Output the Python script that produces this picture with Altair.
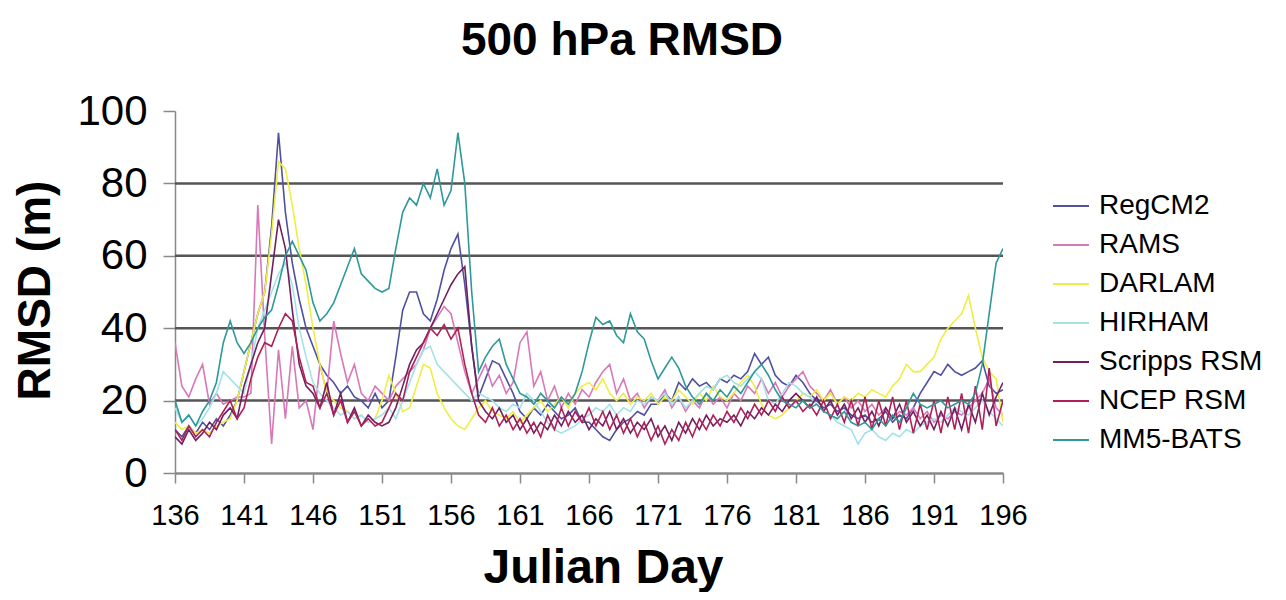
import altair as alt
import pandas as pd

MODELS = ["RegCM2", "RAMS", "DARLAM", "HIRHAM", "Scripps RSM", "NCEP RSM", "MM5-BATS"]
COLORS = ["#5050a0", "#d878b8", "#eeee44", "#a4e2ea", "#702060", "#b02058", "#2f9898"]

DAY_START = 136
DAY_STEP = 0.5
X_TICKS = [136, 141, 146, 151, 156, 161, 166, 171, 176, 181, 186, 191, 196]
Y_TICKS = [0, 20, 40, 60, 80, 100]
GRID = [20, 40, 60, 80]

REGCM2 = [
    12, 10, 13, 11, 14, 12, 15, 13, 16, 20,
    28, 36, 44, 50, 68, 94, 72, 58, 48, 40,
    35, 30, 27, 25, 22, 24, 21, 20, 18, 22,
    18, 20, 32, 45, 50, 50, 44, 42, 48, 56,
    62, 66, 52, 35, 21, 26, 31, 30, 26, 22,
    17, 15, 18, 16, 19, 17, 15, 16, 18, 14,
    14, 12, 10, 9, 12, 14, 15, 17, 16, 19,
    19, 22, 20, 25, 23, 26, 24, 25, 23, 26,
    25, 27, 26, 28, 33, 30, 32, 27, 25, 24,
    27, 25, 22, 20, 18, 19, 17, 18, 16, 15,
    16, 14, 15, 17, 14, 16, 15, 18, 22, 25,
    28, 27, 30, 28, 27, 28, 29, 31, 24, 22,
    23]

RAMS = [
    36, 24, 21, 26, 30, 19, 22, 19, 20, 21,
    21, 22, 74, 38, 8, 34, 15, 35, 18, 20,
    12, 30, 22, 42, 33, 25, 30, 22, 20, 24,
    22, 20, 24, 26, 28, 30, 34, 40, 43, 46,
    44, 36, 28, 22, 26, 30, 24, 27, 22, 25,
    36, 39, 24, 28, 20, 24, 18, 22, 19, 23,
    21, 25, 28, 30, 22, 26, 20, 22, 18, 21,
    20, 23, 18, 21, 17, 20, 18, 22, 19, 21,
    18, 22, 20, 24, 22, 26, 22, 25, 21, 24,
    26, 28, 24, 22, 20, 23, 19, 21, 18, 20,
    17, 19, 16, 18, 15, 17, 16, 18, 15, 17,
    14, 16, 15, 17, 16, 18, 20, 22, 26, 18,
    16]

DARLAM = [
    14, 12, 13, 11, 12, 11, 13, 14, 15, 20,
    28, 36, 44, 50, 66, 86, 84, 74, 62, 52,
    40, 30, 22, 20, 18, 17, 15, 16, 14, 15,
    20, 27, 22, 17, 18, 24, 30, 29, 22, 18,
    15, 13, 12, 15, 18, 20, 17, 16, 15, 17,
    14, 16, 18, 20, 17, 19, 21, 18, 22, 24,
    25, 23, 26, 22, 20, 22, 19, 21, 20, 22,
    19, 21, 20, 23, 21, 19, 22, 20, 24, 21,
    20, 22, 25, 27, 24, 19, 16, 15, 16, 18,
    20, 22, 21, 23, 20, 22, 19, 21, 20, 22,
    21, 23, 22, 21, 24, 26, 30, 28, 28, 30,
    32, 37, 40, 42, 44, 49, 40, 32, 28, 26,
    14]

HIRHAM = [
    18, 14, 16, 13, 15, 18, 22, 28, 26, 24,
    22, 30, 40, 45, 50, 55, 58, 52, 40, 32,
    25, 22, 20, 18, 16, 17, 15, 16, 14, 15,
    16, 18, 15, 20, 25, 30, 34, 35, 30, 28,
    26, 24, 22, 20, 22, 21, 20, 18, 17, 19,
    18, 22, 20, 17, 14, 12, 11, 12, 13, 15,
    16, 18, 17, 19, 16, 18, 17, 20, 19, 21,
    20, 22, 19, 21, 18, 20, 22, 24, 23, 26,
    27, 25, 24, 26, 28, 26, 20, 19, 22, 25,
    24, 22, 21, 19, 17, 16, 14, 13, 12, 8,
    11, 12, 10, 9, 11, 10, 12, 11, 13, 14,
    15, 14, 16, 18, 17, 16, 18, 20, 17, 15,
    13]

SCRIPPS = [
    10, 8, 12, 9, 11, 14, 12, 16, 18, 15,
    24, 30, 36, 40, 55, 70, 62, 45, 30, 24,
    22, 18, 25, 16, 22, 14, 18, 13, 16, 14,
    13, 14, 18, 24, 30, 34, 36, 40, 44, 48,
    52, 55, 57, 35, 20, 17, 15, 18, 14, 16,
    12, 15, 11, 14, 12, 16, 13, 17, 14, 16,
    12, 15, 13, 17, 12, 15, 11, 14, 12, 15,
    10, 13, 9, 14, 11, 15, 12, 16, 13, 15,
    14, 16, 13, 17, 15, 18, 16, 19, 17, 20,
    22, 20, 18, 21, 17, 20, 16, 19, 15, 18,
    14, 17, 13, 18, 15, 19, 14, 17, 13, 16,
    12, 17, 13, 18, 12, 19, 14, 22, 16, 21,
    25]

NCEP = [
    12, 9, 13, 10, 12, 10, 14, 17, 20, 15,
    18, 26, 32, 36, 35, 40, 44, 42, 32, 25,
    24, 18, 22, 16, 20, 14, 17, 13, 15, 13,
    14, 18, 22, 20, 28, 32, 36, 40, 38, 41,
    37, 40, 30, 22, 16, 14, 18, 13, 16, 12,
    15, 11, 14, 10, 16, 12, 18, 13, 17, 14,
    18, 13, 17, 12, 16, 11, 15, 10, 14, 9,
    13, 8, 12, 9, 14, 10, 15, 12, 16, 13,
    17, 14, 18, 15, 19, 16, 20, 17, 21, 18,
    20, 17, 19, 16, 20, 15, 19, 14, 20, 13,
    21, 12, 20, 13, 21, 12, 20, 11, 19, 12,
    20, 11, 21, 12, 22, 11, 24, 12, 29, 13,
    20]

MM5 = [
    20, 14, 16, 13, 17, 20, 25, 36, 42, 36,
    33, 36, 40, 43, 45, 52, 60, 64, 60, 56,
    47, 42, 44, 47, 52, 57, 62, 55, 53, 51,
    50, 51, 62, 72, 76, 74, 80, 76, 84, 74,
    78, 94, 80, 50, 28, 32, 35, 37, 30, 26,
    22, 21, 19, 22, 20, 18, 21, 19, 22, 28,
    36, 43, 41, 42, 38, 36, 44, 39, 37, 31,
    26, 29, 32, 29, 24, 21, 19, 22, 20, 23,
    21, 24, 22, 25, 28, 30, 27, 23, 20, 19,
    18, 20, 18, 19, 17, 16, 15, 17, 14, 13,
    14, 12, 15, 13, 16, 14, 18, 22, 19, 18,
    19, 20, 18, 19, 20, 19, 22, 30, 44, 58,
    62]

SERIES = [REGCM2, RAMS, DARLAM, HIRHAM, SCRIPPS, NCEP, MM5]

rows = []
for name, vals in zip(MODELS, SERIES):
    for i, v in enumerate(vals):
        rows.append({"day": DAY_START + DAY_STEP * i, "rmsd": v, "model": name})
df = pd.DataFrame(rows)
grid_df = pd.DataFrame({"rmsd": GRID})

FONT = "Liberation Sans"

y_enc = alt.Y(
    "rmsd:Q",
    scale=alt.Scale(domain=[0, 100], nice=False),
    axis=alt.Axis(
        values=Y_TICKS, grid=False, title="RMSD (m)",
        labelFontSize=42, labelFont=FONT, labelColor="#000",
        labelPadding=16, tickSize=12, tickColor="#888", tickWidth=1.5,
        domainColor="#888", domainWidth=1.5, labelOverlap=False, labelFlush=False,
        titleFontSize=46, titleFont=FONT, titleFontWeight="bold", titleColor="#000",
        titleX=-126, titleY=179, titleAngle=270, titleBaseline="alphabetic",
        titleAlign="center",
    ),
)

x_enc = alt.X(
    "day:Q",
    scale=alt.Scale(domain=[136, 196], nice=False, zero=False),
    axis=alt.Axis(
        values=X_TICKS, format="d", grid=False, title="Julian Day",
        labelFontSize=29, labelFont=FONT, labelColor="#000",
        labelOverlap=False, labelFlush=False,
        labelPadding=18, tickSize=10, tickColor="#888", tickWidth=1.5,
        domainColor="#888", domainWidth=2.5,
        titleFontSize=48, titleFont=FONT, titleFontWeight="bold", titleColor="#000",
        titleX=428, titleY=109, titleBaseline="alphabetic", titleAlign="center",
    ),
)

grid = alt.Chart(grid_df).mark_rule(color="#555555", strokeWidth=2.5).encode(y=y_enc)

lines = alt.Chart(df).mark_line(strokeWidth=1.6, clip=True).encode(
    x=x_enc,
    y=y_enc,
    color=alt.Color(
        "model:N",
        scale=alt.Scale(domain=MODELS, range=COLORS),
        legend=alt.Legend(
            title=None, orient="none", legendX=877, legendY=76,
            symbolType="stroke", symbolSize=1296, symbolStrokeWidth=2,
            labelFontSize=28, labelFont=FONT, labelColor="#000", labelLimit=400,
            labelOffset=9, rowPadding=6, padding=0,
        ),
    ),
)

chart = alt.layer(grid, lines).properties(
    width=828,
    height=362,
    padding={"left": 167, "top": 103, "right": 275, "bottom": 119},
    autosize="none",
    title=alt.Title("500 hPa RMSD", fontSize=46, font=FONT, fontWeight="bold",
                    color="#000", anchor="middle", dx=33, offset=25),
    background="white",
).configure_view(stroke=None)

chart.save("out.html", embed_options={"renderer": "svg", "actions": False})
